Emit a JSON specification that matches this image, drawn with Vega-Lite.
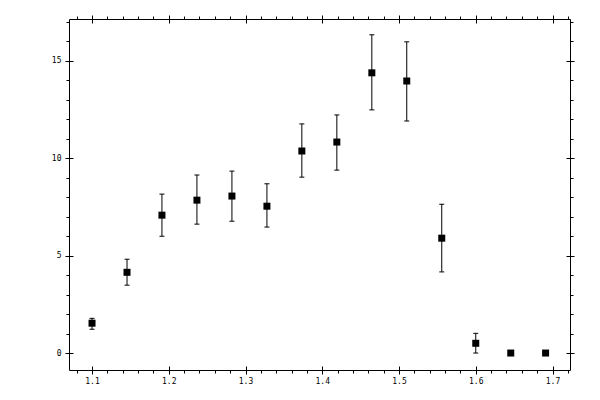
{
  "$schema": "https://vega.github.io/schema/vega-lite/v6.json",
  "width": 501,
  "height": 351,
  "autosize": "none",
  "padding": {"left": 69, "top": 19, "right": 30, "bottom": 30},
  "background": "white",
  "data": {
    "values": [
      {"x": 1.1, "y": 1.53, "lo": 1.22, "hi": 1.78},
      {"x": 1.1456, "y": 4.14, "lo": 3.48, "hi": 4.81},
      {"x": 1.1911, "y": 7.07, "lo": 5.99, "hi": 8.15},
      {"x": 1.2367, "y": 7.84, "lo": 6.61, "hi": 9.13},
      {"x": 1.2823, "y": 8.05, "lo": 6.76, "hi": 9.33},
      {"x": 1.3279, "y": 7.53, "lo": 6.46, "hi": 8.68},
      {"x": 1.3734, "y": 10.36, "lo": 9.02, "hi": 11.75},
      {"x": 1.419, "y": 10.82, "lo": 9.38, "hi": 12.21},
      {"x": 1.4646, "y": 14.37, "lo": 12.47, "hi": 16.32},
      {"x": 1.5101, "y": 13.95, "lo": 11.9, "hi": 15.96},
      {"x": 1.5557, "y": 5.89, "lo": 4.16, "hi": 7.63},
      {"x": 1.6, "y": 0.5, "lo": 0.0, "hi": 1.01},
      {"x": 1.6456, "y": 0.0, "lo": 0.0, "hi": 0.0},
      {"x": 1.691, "y": 0.0, "lo": 0.0, "hi": 0.0}
    ]
  },
  "layer": [
    {
      "mark": {"type": "rule", "color": "black", "strokeWidth": 1},
      "encoding": {
        "x": {
          "field": "x", "type": "quantitative",
          "scale": {"domain": [1.07, 1.7228], "nice": false, "zero": false},
          "axis": {"orient": "bottom", "values": [1.1, 1.2, 1.3, 1.4, 1.5, 1.6, 1.7], "format": ".1f",
                   "offset": -4, "tickSize": 8, "labelPadding": 3, "title": null}
        },
        "y": {
          "field": "lo", "type": "quantitative",
          "scale": {"domain": [-0.87, 17.13], "nice": false, "zero": false},
          "axis": {"orient": "left", "values": [0, 5, 10, 15], "offset": -4, "tickSize": 8,
                   "labelPadding": 4, "title": null}
        },
        "y2": {"field": "hi"}
      }
    },
    {
      "mark": {"type": "tick", "orient": "horizontal", "color": "black", "size": 5, "thickness": 1, "opacity": 1},
      "encoding": {
        "x": {
          "field": "x", "type": "quantitative",
          "axis": {"orient": "bottom", "values": [1.08, 1.1, 1.12, 1.14, 1.16, 1.18, 1.2, 1.22, 1.24, 1.26, 1.28, 1.3, 1.32, 1.34, 1.36, 1.38, 1.4, 1.42, 1.44, 1.46, 1.48, 1.5, 1.52, 1.54, 1.56, 1.58, 1.6, 1.62, 1.64, 1.66, 1.68, 1.7, 1.72],
                   "labels": false, "tickSize": 3, "title": null}
        },
        "y": {
          "field": "lo", "type": "quantitative",
          "axis": {"orient": "left", "values": [0, 1, 2, 3, 4, 5, 6, 7, 8, 9, 10, 11, 12, 13, 14, 15, 16, 17],
                   "labels": false, "tickSize": 3, "title": null}
        }
      }
    },
    {
      "mark": {"type": "tick", "orient": "horizontal", "color": "black", "size": 5, "thickness": 1, "opacity": 1},
      "encoding": {
        "x": {
          "field": "x", "type": "quantitative",
          "axis": {"orient": "top", "values": [1.1, 1.2, 1.3, 1.4, 1.5, 1.6, 1.7], "labels": false,
                   "offset": -4, "tickSize": 8, "title": null}
        },
        "y": {
          "field": "hi", "type": "quantitative",
          "axis": {"orient": "right", "values": [0, 5, 10, 15], "labels": false, "offset": -4, "tickSize": 8, "title": null}
        }
      }
    },
    {
      "mark": {"type": "point", "shape": "square", "filled": true, "color": "black", "size": 49, "opacity": 1, "strokeWidth": 0},
      "encoding": {
        "x": {
          "field": "x", "type": "quantitative",
          "axis": {"orient": "top", "values": [1.08, 1.1, 1.12, 1.14, 1.16, 1.18, 1.2, 1.22, 1.24, 1.26, 1.28, 1.3, 1.32, 1.34, 1.36, 1.38, 1.4, 1.42, 1.44, 1.46, 1.48, 1.5, 1.52, 1.54, 1.56, 1.58, 1.6, 1.62, 1.64, 1.66, 1.68, 1.7, 1.72],
                   "labels": false, "tickSize": 3, "title": null}
        },
        "y": {
          "field": "y", "type": "quantitative",
          "axis": {"orient": "right", "values": [0, 1, 2, 3, 4, 5, 6, 7, 8, 9, 10, 11, 12, 13, 14, 15, 16, 17],
                   "labels": false, "tickSize": 3, "title": null}
        }
      }
    }
  ],
  "resolve": {"axis": {"x": "independent", "y": "independent"}},
  "config": {
    "view": {"stroke": "black", "strokeWidth": 1},
    "axis": {
      "grid": false, "domain": false, "tickColor": "black", "tickWidth": 1,
      "labelFont": "DejaVu Sans Mono", "labelFontSize": 8, "labelColor": "black"
    }
  }
}
